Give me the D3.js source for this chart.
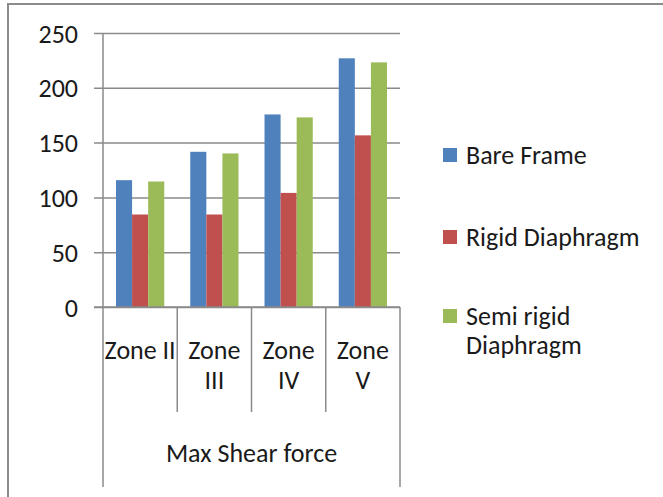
<!DOCTYPE html>
<html>
<head>
<meta charset="utf-8">
<script src="https://cdn.jsdelivr.net/npm/d3@7"></script>
<style>
  html, body { margin: 0; padding: 0; background: #fff; }
  svg { display: block; }
  text { font-family: Carlito, Lato, "Liberation Sans", sans-serif; fill: #1a1a1a; }
</style>
</head>
<body>
<svg id="chart" width="663" height="497"></svg>
<script>
// Zones along the category axis and the grouping label beneath them
const categories = [["Zone II"], ["Zone", "III"], ["Zone", "IV"], ["Zone", "V"]];
const groupLabel = "Max Shear force";

// Series names and their values per zone
const seriesNames = ["Bare Frame", "Rigid Diaphragm", "Semi rigid Diaphragm"];
const bareFrame = [115.7, 141.6, 175.7, 226.9];
const rigidDiaphragm = [84.4, 84.4, 104.1, 156.6];
const semiRigidDiaphragm = [114.5, 140.1, 173.0, 223.2];

// Value axis ticks
const yTicks = [0, 50, 100, 150, 200, 250];

const colors = ["#4F81BD", "#C0504D", "#9BBB59"];
const seriesValues = [bareFrame, rigidDiaphragm, semiRigidDiaphragm];

const svg = d3.select("#chart");
const gridColor = "#8a8a8a";
const fontSize = 26;

// outer frame (only the top and left edges fall inside the view)
svg.append("rect")
  .attr("x", 8).attr("y", 4).attr("width", 700).attr("height", 600)
  .attr("fill", "none").attr("stroke", "#8c8c8c").attr("stroke-width", 2);

const plot = { left: 103, right: 400, top: 33, bottom: 307 };
const catKeys = categories.map(c => c.join(" "));

const x0 = d3.scaleBand().domain(catKeys).range([plot.left, plot.right]).paddingInner(0).paddingOuter(0);
const bw = x0.bandwidth();
const x1 = d3.scaleBand().domain(seriesNames).range([13, bw - 13]).padding(0);
const y = d3.scaleLinear().domain([0, 250]).range([plot.bottom, plot.top]);

// value axis with gridlines
const yAxis = svg.append("g")
  .attr("transform", `translate(${plot.left},0)`)
  .call(d3.axisLeft(y).tickValues(yTicks).tickSizeInner(-(plot.right - plot.left)).tickSizeOuter(0).tickPadding(0));
yAxis.select(".domain").remove();
yAxis.selectAll(".tick line")
  .attr("x1", -9)
  .attr("stroke", gridColor).attr("stroke-width", 1.5);
yAxis.selectAll(".tick text")
  .attr("x", -25)
  .attr("dy", "0.35em")
  .attr("font-size", fontSize)
  .attr("font-family", "Carlito, Lato, sans-serif")
  .attr("fill", "#1a1a1a");

// vertical value-axis line
svg.append("line")
  .attr("x1", plot.left).attr("x2", plot.left)
  .attr("y1", plot.top).attr("y2", plot.bottom)
  .attr("stroke", gridColor).attr("stroke-width", 1.5);

// bars
const groups = svg.append("g").selectAll("g")
  .data(catKeys)
  .join("g")
  .attr("transform", d => `translate(${x0(d)},0)`);

groups.selectAll("rect")
  .data((d, i) => seriesNames.map((s, j) => ({ s, v: seriesValues[j][i], c: colors[j] })))
  .join("rect")
  .attr("x", d => x1(d.s))
  .attr("width", x1.bandwidth())
  .attr("y", d => y(d.v))
  .attr("height", d => y(0) - y(d.v))
  .attr("fill", d => d.c);

// category axis: baseline, separators and the group bracket
const cat = svg.append("g");
cat.append("line")
  .attr("x1", plot.left - 9).attr("x2", plot.right)
  .attr("y1", plot.bottom).attr("y2", plot.bottom)
  .attr("stroke", gridColor).attr("stroke-width", 1.5);

const bounds = catKeys.map(k => x0(k)).concat([plot.right]);
cat.selectAll("line.sep")
  .data(bounds)
  .join("line")
  .attr("class", "sep")
  .attr("x1", d => d).attr("x2", d => d)
  .attr("y1", plot.bottom)
  .attr("y2", (d, i) => (i === 0 || i === bounds.length - 1) ? 487 : 412)
  .attr("stroke", gridColor).attr("stroke-width", 1.5);

cat.selectAll("text.cat")
  .data(categories)
  .join("text")
  .attr("class", "cat")
  .attr("text-anchor", "middle")
  .attr("font-size", fontSize)
  .attr("transform", (d, i) => `translate(${x0(catKeys[i]) + bw / 2},0)`)
  .selectAll("tspan")
  .data(d => d)
  .join("tspan")
  .attr("x", 0)
  .attr("y", (d, i) => 359 + i * 30)
  .text(d => d);

cat.append("text")
  .attr("x", (plot.left + plot.right) / 2)
  .attr("y", 462)
  .attr("text-anchor", "middle")
  .attr("font-size", fontSize)
  .text(groupLabel);

// legend
const legendLines = [["Bare Frame"], ["Rigid Diaphragm"], ["Semi rigid", "Diaphragm"]];
const legendY = [155, 237, 316];
const legend = svg.append("g").selectAll("g")
  .data(seriesNames)
  .join("g")
  .attr("transform", (d, i) => `translate(443,${legendY[i]})`);
legend.append("rect")
  .attr("x", 0).attr("y", -7).attr("width", 14).attr("height", 14)
  .attr("fill", (d, i) => colors[i]);
legend.append("text")
  .attr("font-size", fontSize)
  .selectAll("tspan")
  .data((d, i) => legendLines[i])
  .join("tspan")
  .attr("x", 23)
  .attr("y", (d, i) => 9 + i * 29)
  .text(d => d);
</script>
</body>
</html>
